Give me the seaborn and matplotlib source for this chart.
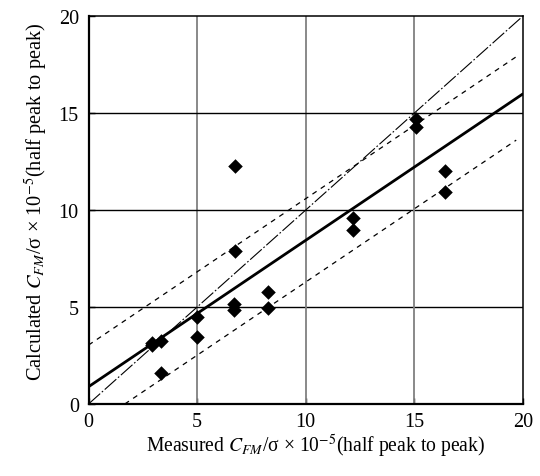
import matplotlib
matplotlib.use("Agg")
import matplotlib.pyplot as plt
import seaborn as sns
import pandas as pd

# Measured vs calculated C_FM / sigma (x 1e-5)
measured = [2.9, 2.9, 3.35, 3.35, 5.0, 5.0, 6.75, 6.75, 6.7, 6.7,
            8.25, 8.25, 12.2, 12.2, 15.1, 15.1, 16.4, 16.4]
calculated = [3.15, 3.05, 3.25, 1.6, 4.5, 3.45, 12.3, 7.9, 5.15, 4.85,
              5.8, 4.95, 9.6, 8.95, 14.7, 14.3, 12.0, 10.95]

# Reference and fitted lines (end points in data units)
equal_x = [0, 20]
equal_y = [0, 20]
fit_x = [0, 20]
fit_y = [0.89, 15.99]
upper_x = [0, 19.7]
upper_y = [3.04, 17.91]
lower_x = [1.67, 19.7]
lower_y = [0.0, 13.61]

ticks = [0, 5, 10, 15, 20]

sns.set_theme(style="white")
plt.rcParams["font.family"] = ["Liberation Serif", "DejaVu Serif"]
plt.rcParams["mathtext.fontset"] = "stix"

fig = plt.figure(figsize=(5.4, 4.77), dpi=100)
ax = fig.add_axes([0.164, 0.151, 0.804, 0.8128])

for v in ticks[1:-1]:
    ax.axvline(v, color="#808080", lw=1.3, zorder=1)
    ax.axhline(v, color="black", lw=1.0, zorder=1)

sns.lineplot(x=equal_x, y=equal_y, ax=ax, color="black", lw=0.8,
             linestyle=(0, (14, 2, 1.5, 2)), zorder=2)
sns.lineplot(x=upper_x, y=upper_y, ax=ax, color="black", lw=0.9,
             linestyle=(0, (4, 4)), zorder=2)
sns.lineplot(x=lower_x, y=lower_y, ax=ax, color="black", lw=0.9,
             linestyle=(0, (4, 4)), zorder=2)
sns.lineplot(x=fit_x, y=fit_y, ax=ax, color="black", lw=2.0, zorder=3)

df = pd.DataFrame({"measured": measured, "calculated": calculated})
sns.scatterplot(data=df, x="measured", y="calculated", ax=ax, marker="D",
                s=55, color="black", edgecolor="black", linewidth=0, zorder=4)

ax.set_xlim(0, 20)
ax.set_ylim(0, 20)
ax.set_xticks(ticks)
ax.set_yticks(ticks)
ax.tick_params(direction="in", length=4, width=1, colors="black",
               labelsize=14.5, bottom=True, left=True)
ax.tick_params(axis="x", pad=5.5)
ax.tick_params(axis="y", pad=7)
for s in ax.spines.values():
    s.set_color("black")
    s.set_linewidth(1.1)
    s.set_visible(True)
ax.spines["left"].set_linewidth(1.6)
ax.spines["bottom"].set_linewidth(1.6)

ax.set_xlabel(r"Measured $C_{FM}$/σ × 10$^{-5}$(half peak to peak)",
              fontsize=14.1, color="black", va="center")
ax.set_ylabel(r"Calculated $C_{FM}$/σ × 10$^{-5}$(half peak to peak)",
              fontsize=14.7, color="black", va="center")
ax.xaxis.set_label_coords(0.523, -0.107)
ax.yaxis.set_label_coords(-0.119, 0.524)

fig.savefig("out.png", dpi=100)
